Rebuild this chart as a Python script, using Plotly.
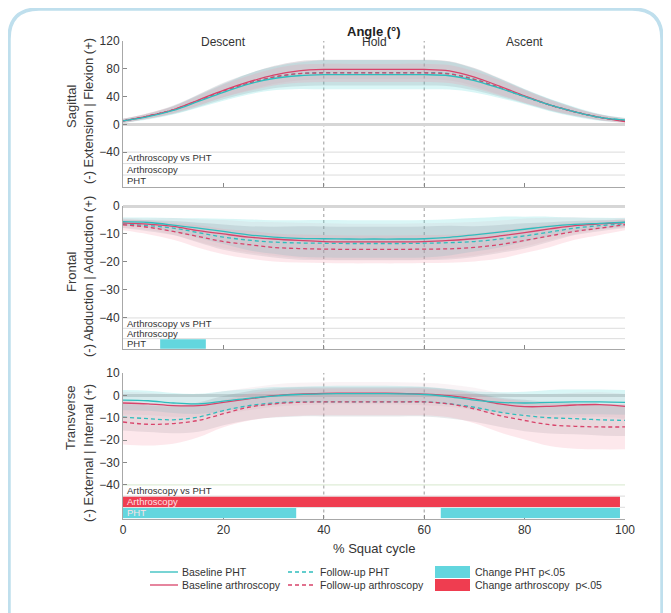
import plotly.graph_objects as go

W, H = 671, 613
OFF = 8  # page body margin offset

# ---------------- data ----------------
X = [0, 5, 10, 15, 20, 25, 30, 35, 40, 45, 50, 55, 60, 65, 70, 75, 80, 85, 90, 95, 100]

# Sagittal
SAG_BASE_PHT = [5, 11, 20, 33, 46, 58, 66, 70, 71.5, 71.5, 71.5, 71.5, 71.5, 70, 63, 52, 40, 28, 18, 10, 6]
SAG_BASE_ART = [5, 12, 21, 35, 49, 61, 71, 77, 79, 79, 79, 79, 79, 77, 68, 55, 41, 28, 18, 10, 4]
SAG_FU_PHT = [5, 12, 21, 34, 48, 59, 68, 73, 74.5, 74.5, 74.5, 74.5, 74.5, 73, 65, 53, 40, 28, 18, 10, 6]
SAG_FU_ART = [5, 12, 21, 34, 48, 59, 68, 73, 74, 74, 74, 74, 74, 72.5, 64.5, 53, 40, 28, 18, 10, 5]
SAG_SD_BASE_PHT = [3, 4, 6, 9, 12, 15, 17, 19, 21, 21, 21, 21, 21, 20, 17, 14, 11, 9, 7, 5, 3]
SAG_SD_BASE_ART = [3, 4, 5, 8, 10, 12, 13, 14, 14, 14, 14, 14, 14, 14, 13, 12, 10, 8, 6, 4, 3]
SAG_SD_FU_PHT = [3, 4, 6, 9, 12, 14, 16, 18, 18.5, 18.5, 18.5, 18.5, 18.5, 18, 16, 13, 10, 8, 6, 4, 3]
SAG_SD_FU_ART = [3, 4, 5, 7, 9, 11, 12, 13, 13, 13, 13, 13, 13, 13, 12, 11, 9, 7, 5, 4, 3]

# Frontal
FRO_BASE_PHT = [-5.6, -5.9, -6.8, -7.9, -9.1, -10.3, -11.1, -11.6, -11.7, -11.8, -11.8, -11.8, -11.7, -11.2, -10.3, -9.3, -8.3, -7.3, -6.6, -6.2, -5.8]
FRO_BASE_ART = [-6.0, -6.5, -7.3, -8.8, -10.0, -11.1, -11.8, -12.3, -12.7, -12.8, -12.8, -12.8, -12.7, -12.3, -11.7, -10.7, -9.5, -8.2, -7.0, -6.4, -5.9]
FRO_FU_PHT = [-6.4, -7.0, -7.9, -9.5, -11.1, -12.2, -12.9, -13.2, -13.3, -13.4, -13.4, -13.4, -13.3, -13.1, -12.7, -11.8, -10.7, -9.3, -7.9, -7.0, -6.4]
FRO_FU_ART = [-6.7, -7.6, -9.1, -10.9, -12.7, -13.8, -14.8, -15.2, -15.4, -15.5, -15.5, -15.5, -15.4, -15.3, -14.8, -13.8, -12.3, -10.7, -9.1, -7.9, -6.7]
FRO_SD_BASE_PHT = [1.5, 1.8, 2.5, 3.5, 4.5, 5.5, 6, 6.5, 6.7, 6.7, 6.7, 6.7, 6.7, 6.5, 6, 5.5, 4.5, 3.5, 2.5, 2, 1.5]
FRO_SD_BASE_ART = [1.8, 2, 3, 4, 5, 5.5, 6, 6.3, 6.5, 6.5, 6.5, 6.5, 6.5, 6.3, 6, 5.5, 5, 4, 3, 2, 1.8]
FRO_SD_FU_PHT = [1.5, 2, 2.5, 3.5, 4.5, 5, 5.5, 6, 6, 6, 6, 6, 6, 6, 5.5, 5, 4.5, 3.5, 2.5, 2, 1.5]
FRO_SD_FU_ART = [2, 2.5, 3, 4, 4.5, 5, 5, 5, 5, 5, 5, 5, 5, 5, 5, 5, 4.5, 4, 3, 2.5, 2]

# Transverse
TRA_BASE_PHT = [-2.1, -2.4, -3.4, -3.8, -2.6, -1.3, -0.3, 0.4, 0.7, 0.8, 0.8, 0.7, 0.4, -0.6, -2.1, -3.1, -3.4, -3.1, -2.9, -2.9, -3.1]
TRA_BASE_ART = [-3.4, -3.8, -4.6, -4.6, -3.1, -1.6, -0.1, 0.6, 0.9, 1.0, 1.0, 0.9, 0.6, -0.1, -1.6, -3.8, -5.0, -4.9, -4.3, -4.1, -4.9]
TRA_FU_PHT = [-9.7, -10.4, -10.9, -9.7, -6.8, -4.6, -3.4, -2.9, -2.9, -2.9, -2.9, -2.9, -2.9, -3.8, -5.3, -7.5, -9.0, -10.0, -10.4, -10.9, -11.2]
TRA_FU_ART = [-11.9, -12.9, -12.6, -11.2, -8.2, -5.3, -3.8, -3.1, -2.9, -2.9, -2.9, -2.9, -2.9, -3.8, -6.0, -9.0, -11.2, -13.1, -13.8, -14.1, -14.1]
TRA_SD_BASE_PHT = [4.5, 4.5, 4.5, 4.5, 4.5, 4, 4, 3.5, 3.5, 3.5, 3.5, 3.5, 3.5, 3.5, 4, 4.5, 5, 5.5, 5.5, 5.5, 5.5]
TRA_SD_BASE_ART = [5, 5, 5, 5, 5, 5, 5, 5, 5, 5, 5, 5, 5, 5, 5, 5, 5.5, 5.5, 5.5, 5.5, 5.5]
TRA_SD_FU_PHT = [6, 6, 6, 6.5, 6.5, 6.5, 6.5, 6.5, 6.5, 6.5, 6.5, 6.5, 6.5, 6.5, 6.5, 6.5, 7, 7, 7, 7, 7]
TRA_SD_FU_ART = [10, 9.5, 9, 7.5, 6, 6, 6, 6, 6, 6, 6, 6, 6, 6, 6.5, 7.5, 8.5, 9.5, 10, 10, 10]

# Significant change intervals (% cycle)
SIG_FRO_PHT = [[7.4, 16.5]]
SIG_TRA_ART = [[0, 99]]
SIG_TRA_PHT = [[0, 34.5], [63.3, 99]]

ROW_LABELS = ["Arthroscopy vs PHT", "Arthroscopy", "PHT"]
PHASES = ["Descent", "Hold", "Ascent"]
PHASE_X = [20, 50, 80]
PHASE_BOUNDS = [40, 60]
X_TICKS = [0, 20, 40, 60, 80, 100]
PANEL_TITLES = ["Sagittal", "Frontal", "Transverse"]
PANEL_SUBTITLES = ["(-) Extension | Flexion (+)", "(-) Abduction | Adduction (+)", "(-) External | Internal (+)"]
Y_TICKS = [[-40, 0, 40, 80, 120], [-40, -30, -20, -10, 0], [-40, -30, -20, -10, 0, 10]]
Y_RANGES = [[-89.5, 120], [-51.1, 0], [-55, 10]]
LEGEND_LABELS = ["Baseline PHT", "Follow-up PHT", "Change PHT p<.05",
                 "Baseline arthroscopy", "Follow-up arthroscopy", "Change arthroscopy  p<.05"]

# ---------------- styles ----------------
C_PHT = "#2fbdbd"
C_ART = "#d8436a"
C_PHT_BAR = "#63d6de"
C_ART_BAR = "#ef3d50"
BAND = {
    "base_pht": "rgba(80,212,212,0.22)",
    "fu_pht": "rgba(110,125,135,0.17)",
    "base_art": "rgba(205,160,175,0.12)",
    "fu_art": "rgba(245,150,170,0.22)",
}
FONT = "Liberation Sans, Arial, sans-serif"


def px_x(px):
    return (px - OFF) / W


def px_y(py):
    return 1 - (py - OFF) / H


X_DOM = [px_x(123), px_x(625)]
Y_DOMS = [[px_y(186.5), px_y(41)], [px_y(349), px_y(206)], [px_y(518.5), px_y(373)]]

panels = [
    (SAG_BASE_PHT, SAG_BASE_ART, SAG_FU_PHT, SAG_FU_ART, SAG_SD_BASE_PHT, SAG_SD_BASE_ART, SAG_SD_FU_PHT, SAG_SD_FU_ART),
    (FRO_BASE_PHT, FRO_BASE_ART, FRO_FU_PHT, FRO_FU_ART, FRO_SD_BASE_PHT, FRO_SD_BASE_ART, FRO_SD_FU_PHT, FRO_SD_FU_ART),
    (TRA_BASE_PHT, TRA_BASE_ART, TRA_FU_PHT, TRA_FU_ART, TRA_SD_BASE_PHT, TRA_SD_BASE_ART, TRA_SD_FU_PHT, TRA_SD_FU_ART),
]

fig = go.Figure()
shapes = []
annotations = []

for i, p in enumerate(panels):
    bp, ba, fp, fa, sbp, sba, sfp, sfa = p
    xa = "x" if i == 0 else f"x{i+1}"
    ya = "y" if i == 0 else f"y{i+1}"
    # bands
    for mean, sd, key in [(bp, sbp, "base_pht"), (ba, sba, "base_art"), (fp, sfp, "fu_pht"), (fa, sfa, "fu_art")]:
        up = [m + s for m, s in zip(mean, sd)]
        lo = [m - s for m, s in zip(mean, sd)]
        fig.add_trace(go.Scatter(x=X, y=up, mode="lines", line=dict(width=0, shape="spline"),
                                 xaxis=xa, yaxis=ya, hoverinfo="skip", showlegend=False))
        fig.add_trace(go.Scatter(x=X, y=lo, mode="lines", line=dict(width=0, shape="spline"),
                                 fill="tonexty", fillcolor=BAND[key],
                                 xaxis=xa, yaxis=ya, hoverinfo="skip", showlegend=False))
    # mean lines
    for mean, col, dash in [(fp, C_PHT, "4px,3px"), (fa, C_ART, "4px,3px"), (ba, C_ART, "solid"), (bp, C_PHT, "solid")]:
        fig.add_trace(go.Scatter(x=X, y=mean, mode="lines",
                                 line=dict(color=col, width=1.3, dash=dash, shape="spline"),
                                 xaxis=xa, yaxis=ya, showlegend=False))

    ymin, ymax = Y_RANGES[i]
    step = (-40 - ymin) / 3
    rows = [-40 - k * step for k in range(4)]
    # row lines
    for k in range(3):
        shapes.append(dict(type="line", xref=xa, yref=ya, x0=0, x1=100, y0=rows[k], y1=rows[k],
                           line=dict(color="#dcdcdc" if not (i == 2 and k == 0) else "#d6e8cc", width=1),
                           layer="below"))
    # phase boundary dotted lines
    for b in PHASE_BOUNDS:
        shapes.append(dict(type="line", xref=xa, yref=ya, x0=b, x1=b, y0=ymin, y1=ymax,
                           line=dict(color="#9a9a9a", width=1, dash="dot"), layer="below"))
    # significance bars
    sig_rows = [[], [], []]
    if i == 1:
        sig_rows[2] = SIG_FRO_PHT
    if i == 2:
        sig_rows[1] = SIG_TRA_ART
        sig_rows[2] = SIG_TRA_PHT
    for k in range(3):
        col = C_ART_BAR if k == 1 else C_PHT_BAR
        for a, b in sig_rows[k]:
            shapes.append(dict(type="rect", xref=xa, yref=ya, x0=a, x1=b,
                               y0=rows[k] - 0.06 * step, y1=rows[k + 1] + 0.02 * step,
                               fillcolor=col, line=dict(width=0), layer="above"))
    for k in range(3):
        covered = any(a <= 1 for a, b in sig_rows[k])
        annotations.append(dict(x=0.3, y=(rows[k] + rows[k + 1]) / 2, xref=xa, yref=ya,
                                text=ROW_LABELS[k], showarrow=False, xanchor="left", yanchor="middle",
                                font=dict(size=9.5, color="#fbe3e6" if covered else "#333", family=FONT)))

    # y titles
    ymid = {0: (107, 111), 1: (272, 277), 2: (418, 453)}[i]
    annotations.append(dict(x=px_x(71), y=px_y(ymid[0]), xref="paper", yref="paper", text=PANEL_TITLES[i],
                            textangle=-90, showarrow=False, xanchor="center", yanchor="middle",
                            font=dict(size=13, color="#3a3a3a", family=FONT)))
    annotations.append(dict(x=px_x(88), y=px_y(ymid[1]), xref="paper", yref="paper", text=PANEL_SUBTITLES[i],
                            textangle=-90, showarrow=False, xanchor="center", yanchor="middle",
                            font=dict(size=13, color="#3a3a3a", family=FONT)))

# phase labels & title
for t, xv in zip(PHASES, PHASE_X):
    annotations.append(dict(x=xv, y=px_y(42), xref="x", yref="paper", text=t, showarrow=False,
                            xanchor="center", yanchor="middle", font=dict(size=12, color="#333", family=FONT)))
annotations.append(dict(x=50, y=px_y(32), xref="x", yref="paper", text="<b>Angle (°)</b>", showarrow=False,
                        xanchor="center", yanchor="middle", font=dict(size=13, color="#222", family=FONT)))
annotations.append(dict(x=50, y=px_y(548), xref="x3", yref="paper", text="% Squat cycle", showarrow=False,
                        xanchor="center", yanchor="middle", font=dict(size=13, color="#333", family=FONT)))

# legend (manual)
leg_rows = [572, 585]
for r, ry in enumerate(leg_rows):
    col = C_PHT if r == 0 else C_ART
    bar = C_PHT_BAR if r == 0 else C_ART_BAR
    shapes.append(dict(type="line", xref="paper", yref="paper", x0=px_x(150), x1=px_x(178),
                       y0=px_y(ry), y1=px_y(ry), line=dict(color=col, width=1.3)))
    shapes.append(dict(type="line", xref="paper", yref="paper", x0=px_x(288), x1=px_x(316),
                       y0=px_y(ry), y1=px_y(ry), line=dict(color=col, width=1.3, dash="4px,3px")))
    shapes.append(dict(type="rect", xref="paper", yref="paper", x0=px_x(435), x1=px_x(470),
                       y0=px_y(ry + 6), y1=px_y(ry - 6), fillcolor=bar, line=dict(width=0)))
    for j, xx in enumerate([180, 318, 473]):
        annotations.append(dict(x=px_x(xx), y=px_y(ry), xref="paper", yref="paper",
                                text=LEGEND_LABELS[r * 3 + j], showarrow=False, xanchor="left",
                                yanchor="middle", font=dict(size=10.5, color="#333", family=FONT)))

# card border
x0, x1, y0, y1, rr = 9, 662, 9, 660, 30
path = (f"M {px_x(x0)},{px_y(y1)} L {px_x(x0)},{px_y(y0 + rr)} "
        f"Q {px_x(x0)},{px_y(y0)} {px_x(x0 + rr)},{px_y(y0)} "
        f"L {px_x(x1 - rr)},{px_y(y0)} Q {px_x(x1)},{px_y(y0)} {px_x(x1)},{px_y(y0 + rr)} "
        f"L {px_x(x1)},{px_y(y1)}")
shapes.append(dict(type="path", xref="paper", yref="paper", path=path,
                   line=dict(color="#bfdfed", width=3.5), layer="below"))

layout = dict(
    width=W, height=H, margin=dict(l=0, r=0, t=0, b=0),
    paper_bgcolor="white", plot_bgcolor="white", showlegend=False,
    font=dict(family=FONT, size=12, color="#333"),
    shapes=shapes, annotations=annotations,
)
for i in range(3):
    sx = "" if i == 0 else str(i + 1)
    layout[f"xaxis{sx}"] = dict(domain=X_DOM, range=[0, 100], anchor=f"y{sx}", tickvals=X_TICKS,
                                ticks="inside", ticklen=4, tickcolor="#888", showline=True,
                                linecolor="#a8a8a8", linewidth=1, showgrid=False, zeroline=False,
                                showticklabels=(i == 2), tickfont=dict(size=12, color="#333"),
                                automargin=False)
    layout[f"yaxis{sx}"] = dict(domain=Y_DOMS[i], range=Y_RANGES[i], anchor=f"x{sx}", tickvals=Y_TICKS[i],
                                ticks="inside", ticklen=4, tickcolor="#888", showline=True,
                                linecolor="#a8a8a8", linewidth=1, showgrid=False, zeroline=True,
                                zerolinecolor="#d6d6d6", zerolinewidth=2.5,
                                tickfont=dict(size=12, color="#333"), automargin=False)

fig.update_layout(**layout)
fig.write_html("out.html")
